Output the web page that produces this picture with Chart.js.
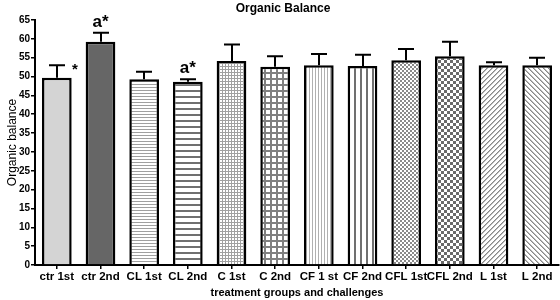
<!DOCTYPE html>
<html>
<head>
<meta charset="utf-8">
<script src="https://cdn.jsdelivr.net/npm/chart.js@4.4.1/dist/chart.umd.min.js"></script>
<style>
  html, body { margin: 0; padding: 0; background: #fff; }
  #wrap { width: 560px; height: 300px; }
</style>
</head>
<body>
<div id="wrap"><canvas id="chart" width="560" height="300"></canvas></div>
<script>
const categories = ["ctr 1st", "ctr 2nd", "CL 1st", "CL 2nd", "C 1st", "C 2nd",
                    "CF 1 st", "CF 2nd", "CFL 1st", "CFL 2nd", "L 1st", "L 2nd"];
const means = [49.7, 59.2, 49.3, 48.6, 54.1, 52.6, 53.0, 52.8, 54.3, 55.4, 53.0, 53.0];
const errorTops = [53.0, 61.6, 51.3, 49.3, 58.5, 55.4, 56.0, 55.8, 57.3, 59.2, 53.8, 55.0];
const marks = ["*", "a*", "", "a*", "", "", "", "", "", "", "", ""];
const yTicks = [0, 5, 10, 15, 20, 25, 30, 35, 40, 45, 50, 55, 60, 65];

const FONT = "'Liberation Sans', Arial, sans-serif";

// motifs de remplissage (noir et blanc, comme l'original)
function motif(size, draw) {
    const c = document.createElement("canvas");
    c.width = size; c.height = size;
    const g = c.getContext("2d");
    g.fillStyle = "#fff";
    g.fillRect(0, 0, size, size);
    draw(g, size);
    return document.getElementById("chart").getContext("2d").createPattern(c, "repeat");
}

const fills = [
    "#d4d4d4",
    "#666666",
    motif(3, (g) => { g.fillStyle = "#a0a0a0"; g.fillRect(0, 0, 3, 1); }),
    motif(6, (g) => { g.fillStyle = "#707070"; g.fillRect(0, 0, 6, 2); }),
    motif(3, (g) => { g.fillStyle = "#a0a0a0"; g.fillRect(0, 0, 3, 1); g.fillRect(0, 0, 1, 3); }),
    motif(6, (g) => { g.fillStyle = "#808080"; g.fillRect(0, 0, 6, 2); g.fillRect(0, 0, 2, 6); }),
    motif(3, (g) => { g.fillStyle = "#b0b0b0"; g.fillRect(0, 0, 1, 3); }),
    motif(6, (g) => { g.fillStyle = "#707070"; g.fillRect(0, 0, 2, 6); }),
    motif(4, (g) => { g.fillStyle = "#8a8a8a"; g.fillRect(0, 0, 2, 2); g.fillRect(2, 2, 2, 2); }),
    motif(6, (g) => { g.fillStyle = "#6a6a6a"; g.fillRect(0, 0, 3, 3); g.fillRect(3, 3, 3, 3); }),
    motif(5, (g) => {
        g.fillStyle = "#888";
        for (let i = 0; i < 5; i++) g.fillRect(4 - i, i, 1, 1);
        g.fillStyle = "#bbb";
        for (let i = 0; i < 5; i++) g.fillRect((5 - i) % 5, i, 1, 1);
    }),
    motif(5, (g) => {
        g.fillStyle = "#888";
        for (let i = 0; i < 5; i++) g.fillRect(i, i, 1, 1);
        g.fillStyle = "#bbb";
        for (let i = 0; i < 5; i++) g.fillRect((i + 1) % 5, i, 1, 1);
    })
];

// barres d'erreur, astérisques et titre
const extras = {
    id: "extras",
    afterDatasetsDraw(chart) {
        const { ctx, scales: { x, y } } = chart;
        const meta = chart.getDatasetMeta(0);
        ctx.save();
        ctx.strokeStyle = "#000";
        ctx.lineWidth = 2;
        ctx.lineCap = "butt";
        meta.data.forEach((bar, i) => {
            const cx = Math.round(bar.x);
            const yTop = y.getPixelForValue(errorTops[i]);
            const yMean = y.getPixelForValue(means[i]);
            ctx.beginPath();
            ctx.moveTo(cx, yMean);
            ctx.lineTo(cx, yTop);
            ctx.moveTo(cx - 8, yTop);
            ctx.lineTo(cx + 8, yTop);
            ctx.stroke();
        });
        ctx.fillStyle = "#000";
        ctx.textAlign = "center";
        ctx.textBaseline = "alphabetic";
        marks.forEach((m, i) => {
            if (!m) return;
            const bar = meta.data[i];
            if (m === "*") {
                ctx.font = "bold 15px " + FONT;
                ctx.fillText(m, bar.x + 18, y.getPixelForValue(errorTops[i]) + 9);
            } else {
                ctx.font = "bold 17px " + FONT;
                ctx.fillText(m, bar.x, y.getPixelForValue(errorTops[i]) - 6);
            }
        });
        ctx.font = "bold 12px " + FONT;
        ctx.fillText("Organic Balance", 283, 12);
        ctx.restore();
    }
};

new Chart(document.getElementById("chart"), {
    type: "bar",
    data: {
        labels: categories,
        datasets: [{
            data: means,
            backgroundColor: fills,
            borderColor: "#000",
            borderWidth: 2.5,
            borderSkipped: "bottom",
            categoryPercentage: 1,
            barPercentage: 0.68
        }]
    },
    options: {
        responsive: false,
        animation: false,
        events: [],
        layout: { padding: { top: 20, right: 1, left: 0, bottom: 0 } },
        plugins: {
            legend: { display: false },
            tooltip: { enabled: false },
            title: { display: false }
        },
        scales: {
            y: {
                min: 0,
                max: 65,
                afterBuildTicks: (axis) => { axis.ticks = yTicks.map(v => ({ value: v })); },
                afterFit: (axis) => { axis.width = 35; },
                border: { color: "#000", width: 2 },
                grid: { drawOnChartArea: false, drawTicks: true, tickLength: 4, color: "#000", lineWidth: 1.5 },
                ticks: { color: "#000", padding: 1, font: { family: FONT, size: 10, weight: "bold" } },
                title: {
                    display: true,
                    text: "Organic balance",
                    color: "#000",
                    padding: { top: 5, bottom: 0 },
                    font: { family: FONT, size: 12 }
                }
            },
            x: {
                afterFit: (axis) => { axis.height = 35; },
                border: { color: "#000", width: 2 },
                grid: { drawOnChartArea: false, drawTicks: true, tickLength: 4, color: "#000", lineWidth: 1.5, offset: false },
                ticks: { color: "#000", padding: 1, maxRotation: 0, autoSkip: false, font: { family: FONT, size: 11.5, weight: "bold" } },
                title: {
                    display: true,
                    text: "treatment groups and challenges",
                    color: "#000",
                    padding: { top: 2, bottom: 0 },
                    font: { family: FONT, size: 11, weight: "bold" }
                }
            }
        }
    },
    plugins: [extras]
});
</script>
</body>
</html>
